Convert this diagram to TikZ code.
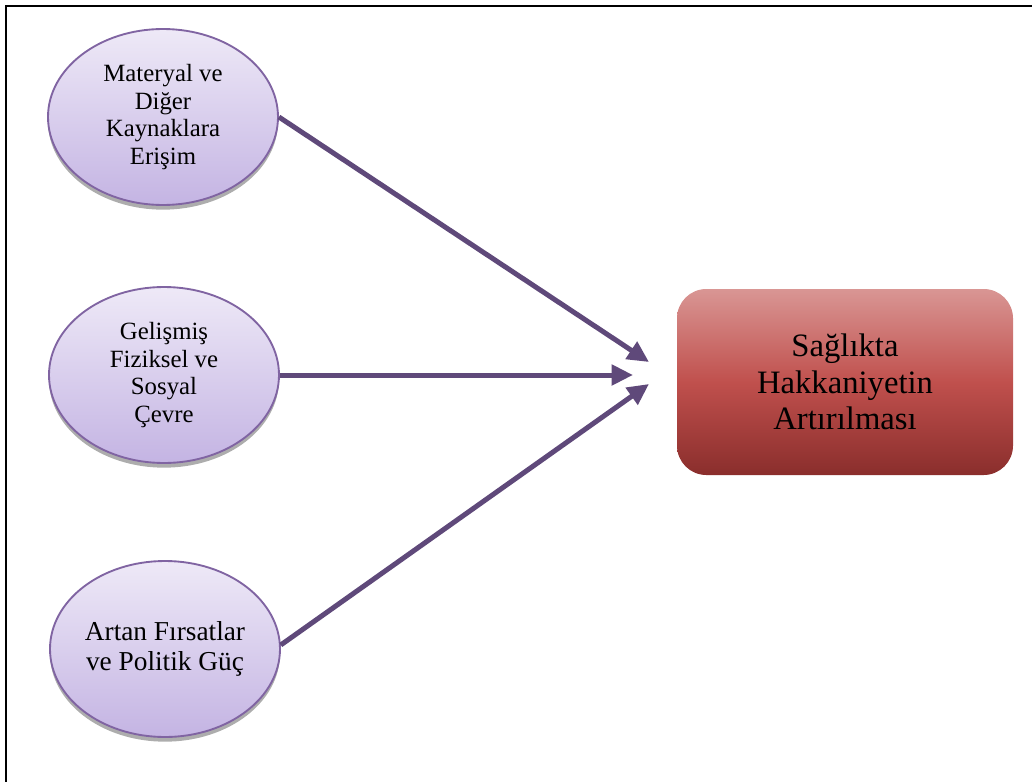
\documentclass[tikz,border=0pt]{standalone}
\usepackage{fontspec}
\setmainfont{Liberation Serif}
\usetikzlibrary{shapes.geometric,shadows,arrows.meta}
\definecolor{lavtop}{RGB}{238,233,247}
\definecolor{lavbot}{RGB}{196,180,227}
\definecolor{lavline}{RGB}{128,100,162}
\definecolor{arrowc}{RGB}{95,73,122}
\definecolor{redtop}{RGB}{217,150,148}
\definecolor{redmid}{RGB}{192,80,77}
\definecolor{redbot}{RGB}{138,46,44}
\tikzset{
  oval/.style={ellipse, draw=lavline, line width=1.4pt, top color=lavtop, bottom color=lavbot,
    minimum width=172.5pt, minimum height=132pt, inner sep=0pt, align=center,
    font=\fontsize{18.6pt}{20.6pt}\selectfont,
    drop shadow={shadow xshift=0pt, shadow yshift=-3.5pt, fill=black!40, opacity=0.8}},
  bigtext/.style={font=\fontsize{20.5pt}{22.5pt}\selectfont},
  goal/.style={rectangle, rounded corners=22pt, top color=redtop, bottom color=redbot, middle color=redmid,
    minimum width=252pt, minimum height=139.5pt, inner sep=0pt, align=center,
    font=\fontsize{24.5pt}{27.6pt}\selectfont},
  link/.style={draw=arrowc, line width=3.75pt, -{Triangle[length=16pt,width=15pt]}},
  frame/.style={line width=1.6pt, black}
}
\begin{document}
\begin{tikzpicture}[x=0.75pt,y=-0.75pt]
\useasboundingbox (0,0) rectangle (1032,782);
\draw[frame] (6,782) -- (6,6) -- (1032,6);
\node[oval] (e1) at (163,117) {Materyal ve\\Diğer\\Kaynaklara\\Erişim};
\node[oval] (e2) at (164,375) {Gelişmiş\\Fiziksel ve\\Sosyal\\Çevre};
\node[oval, bigtext] (e3) at (165,649) {Artan Fırsatlar\\ve Politik Güç};
\node[goal] (g) at (845,382) {Sağlıkta\\Hakkaniyetin\\Artırılması};
\coordinate (t1) at (649,362);
\coordinate (t2) at (633,375);
\coordinate (t3) at (649,384);
\draw[link] (e1.east) -- (t1);
\draw[link] (e2.east) -- (t2);
\draw[link] (e3.2) -- (t3);
\end{tikzpicture}
\end{document}
